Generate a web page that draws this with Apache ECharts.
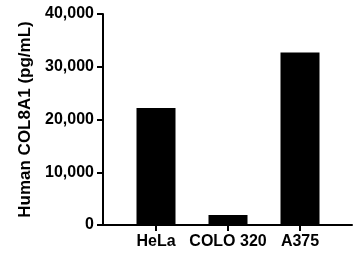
<!DOCTYPE html>
<html>
<head>
<meta charset="utf-8">
<script src="https://cdn.jsdelivr.net/npm/echarts@6/dist/echarts.min.js"></script>
<style>
  html, body { margin: 0; padding: 0; background: #fff; }
  #chart { width: 356px; height: 258px; }
</style>
</head>
<body>
<div id="chart"></div>
<script>
// cell lines and measured COL8A1 concentration (pg/mL)
var categories = ['HeLa', 'COLO 320', 'A375']
var values = [22200, 1900, 32700]
var yTicks = [0, 10000, 20000, 30000, 40000]

var font = 'Liberation Sans, Arial, sans-serif'

var chart = echarts.init(document.getElementById('chart'))
chart.setOption({
  animation: false,
  grid: [
    { left: 120, right: 20, top: 14, bottom: 33 },
    // wider grid only used to draw the full-length baseline
    { left: 103, right: 4, top: 14, bottom: 33 }
  ],
  xAxis: [
    {
      type: 'category',
      gridIndex: 0,
      data: categories,
      axisLine: { show: false },
      axisTick: { show: true, alignWithLabel: true, length: 6, lineStyle: { color: '#000', width: 2 } },
      axisLabel: { interval: 0, color: '#000', fontFamily: font, fontWeight: 'bold', fontSize: 16, margin: 9 }
    },
    {
      type: 'value',
      gridIndex: 1,
      min: 0,
      max: 1,
      axisLine: { show: true, lineStyle: { color: '#000', width: 2 } },
      axisTick: { show: false },
      axisLabel: { show: false },
      splitLine: { show: false }
    }
  ],
  yAxis: [
    {
      type: 'value',
      gridIndex: 0,
      min: yTicks[0],
      max: yTicks[yTicks.length - 1],
      interval: 10000,
      offset: 17,
      name: 'Human COL8A1 (pg/mL)',
      nameLocation: 'middle',
      nameGap: 62,
      nameTextStyle: { color: '#000', fontFamily: font, fontWeight: 'bold', fontSize: 17 },
      axisLine: { show: true, lineStyle: { color: '#000', width: 2 } },
      axisTick: { show: true, length: 6, lineStyle: { color: '#000', width: 2 } },
      axisLabel: {
        color: '#000', fontFamily: font, fontWeight: 'bold', fontSize: 16, margin: 9,
        formatter: function (v) { return v.toLocaleString('en-US') }
      },
      splitLine: { show: false }
    },
    {
      type: 'value',
      gridIndex: 1,
      show: false
    }
  ],
  series: [
    {
      type: 'bar',
      xAxisIndex: 0,
      yAxisIndex: 0,
      data: values,
      barWidth: 39,
      itemStyle: { color: '#000' }
    }
  ]
})
</script>
</body>
</html>
